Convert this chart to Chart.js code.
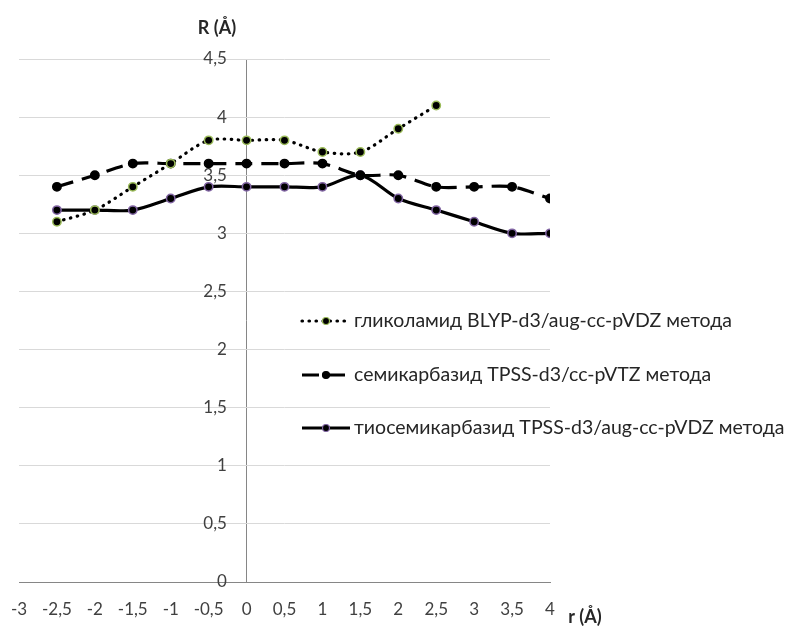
<!DOCTYPE html>
<html>
<head>
<meta charset="utf-8">
<script src="https://cdn.jsdelivr.net/npm/chart.js@4.4.1/dist/chart.umd.min.js"></script>
<style>
  html, body { margin: 0; padding: 0; background: #fff; }
  #wrap { width: 789px; height: 628px; }
</style>
</head>
<body>
<div id="wrap"><canvas id="myChart" width="789" height="628"></canvas></div>
<script>
// r (Å) values
const rValues = [-2.5, -2, -1.5, -1, -0.5, 0, 0.5, 1, 1.5, 2, 2.5, 3, 3.5, 4];

// R (Å) series
const glycolamide = [3.1, 3.2, 3.4, 3.6, 3.8, 3.8, 3.8, 3.7, 3.7, 3.9, 4.1, null, null, null];
const semicarbazide = [3.4, 3.5, 3.6, 3.6, 3.6, 3.6, 3.6, 3.6, 3.5, 3.5, 3.4, 3.4, 3.4, 3.3];
const thiosemicarbazide = [3.2, 3.2, 3.2, 3.3, 3.4, 3.4, 3.4, 3.4, 3.5, 3.3, 3.2, 3.1, 3.0, 3.0];

const seriesLabels = [
    'гликоламид BLYP-d3/aug-cc-pVDZ метода',
    'семикарбазид TPSS-d3/cc-pVTZ метода',
    'тиосемикарбазид TPSS-d3/aug-cc-pVDZ метода'
];

function toPoints(values) {
    const pts = [];
    values.forEach((v, i) => {
        if (v !== null) pts.push({ x: rValues[i], y: v });
    });
    return pts;
}

const commaFmt = v => String(v).replace('.', ',');

// легенда и подписи осей
const extrasPlugin = {
    id: 'extras',
    afterDraw(chart) {
        const ctx = chart.ctx;
        ctx.save();
        ctx.fillStyle = '#262626';
        ctx.font = 'bold 18px Lato';
        ctx.textAlign = 'center';
        ctx.textBaseline = 'middle';
        ctx.fillText('R (Å)', 217, 28);
        ctx.fillText('r (Å)', 585, 617);

        const rows = [321, 375, 428];
        chart.data.datasets.forEach((ds, i) => {
            const y = rows[i];
            ctx.save();
            ctx.strokeStyle = ds.borderColor;
            ctx.lineWidth = ds.borderWidth;
            ctx.lineCap = ds.borderCapStyle || 'butt';
            ctx.setLineDash(ds.borderDash || []);
            ctx.beginPath();
            ctx.moveTo(302, y);
            ctx.lineTo(350, y);
            ctx.stroke();
            ctx.setLineDash([]);
            ctx.beginPath();
            ctx.arc(326, y, 3.5, 0, Math.PI * 2);
            ctx.fillStyle = ds.pointBackgroundColor;
            ctx.fill();
            ctx.lineWidth = 1.2;
            ctx.strokeStyle = ds.pointBorderColor;
            ctx.stroke();
            ctx.restore();
            ctx.fillStyle = '#262626';
            ctx.font = '19.5px Lato';
            ctx.textAlign = 'left';
            ctx.fillText(ds.label, 354, y);
        });
        ctx.restore();
    }
};

const ctx = document.getElementById('myChart').getContext('2d');
new Chart(ctx, {
    type: 'scatter',
    data: {
        datasets: [{
            label: seriesLabels[0],
            data: toPoints(glycolamide),
            showLine: true,
            borderColor: '#000',
            borderWidth: 3.2,
            borderDash: [0.5, 6.5],
            borderCapStyle: 'round',
            tension: 0.3,
            pointRadius: 4.2,
            pointBackgroundColor: '#000',
            pointBorderColor: '#9bbb59',
            pointBorderWidth: 1.5
        }, {
            label: seriesLabels[1],
            data: toPoints(semicarbazide),
            showLine: true,
            borderColor: '#000',
            borderWidth: 3.2,
            borderDash: [17, 9],
            tension: 0.3,
            pointRadius: 4.2,
            pointBackgroundColor: '#000',
            pointBorderColor: '#000',
            pointBorderWidth: 1.5
        }, {
            label: seriesLabels[2],
            data: toPoints(thiosemicarbazide),
            showLine: true,
            borderColor: '#000',
            borderWidth: 3.2,
            tension: 0.3,
            pointRadius: 4.2,
            pointBackgroundColor: '#000',
            pointBorderColor: '#8064a2',
            pointBorderWidth: 1.5
        }]
    },
    options: {
        responsive: false,
        animation: false,
        layout: { padding: { left: 19, right: 239, top: 59, bottom: 0 } },
        plugins: {
            legend: { display: false },
            tooltip: { enabled: false }
        },
        scales: {
            x: {
                type: 'linear',
                position: 'bottom',
                min: -3,
                max: 4,
                afterFit: scale => {
                    scale.height = 46;
                    scale.paddingLeft = 0;
                    scale.paddingRight = 0;
                },
                ticks: {
                    stepSize: 0.5,
                    padding: 17,
                    color: '#404040',
                    font: { family: 'Lato', size: 17 },
                    callback: commaFmt,
                    maxRotation: 0,
                    autoSkip: false
                },
                // only the vertical line at r = 0 is drawn
                grid: {
                    drawTicks: false,
                    color: c => (c.tick && c.tick.value === 0 ? '#868686' : 'rgba(0,0,0,0)')
                },
                border: { display: true, color: '#868686', width: 1 }
            },
            y: {
                type: 'linear',
                position: { x: -0.26 },
                min: 0,
                max: 4.5,
                ticks: {
                    stepSize: 0.5,
                    color: '#404040',
                    font: { family: 'Lato', size: 17 },
                    callback: commaFmt
                },
                grid: { color: '#d9d9d9', drawTicks: false },
                border: { display: false }
            }
        }
    },
    plugins: [extrasPlugin]
});
</script>
</body>
</html>
